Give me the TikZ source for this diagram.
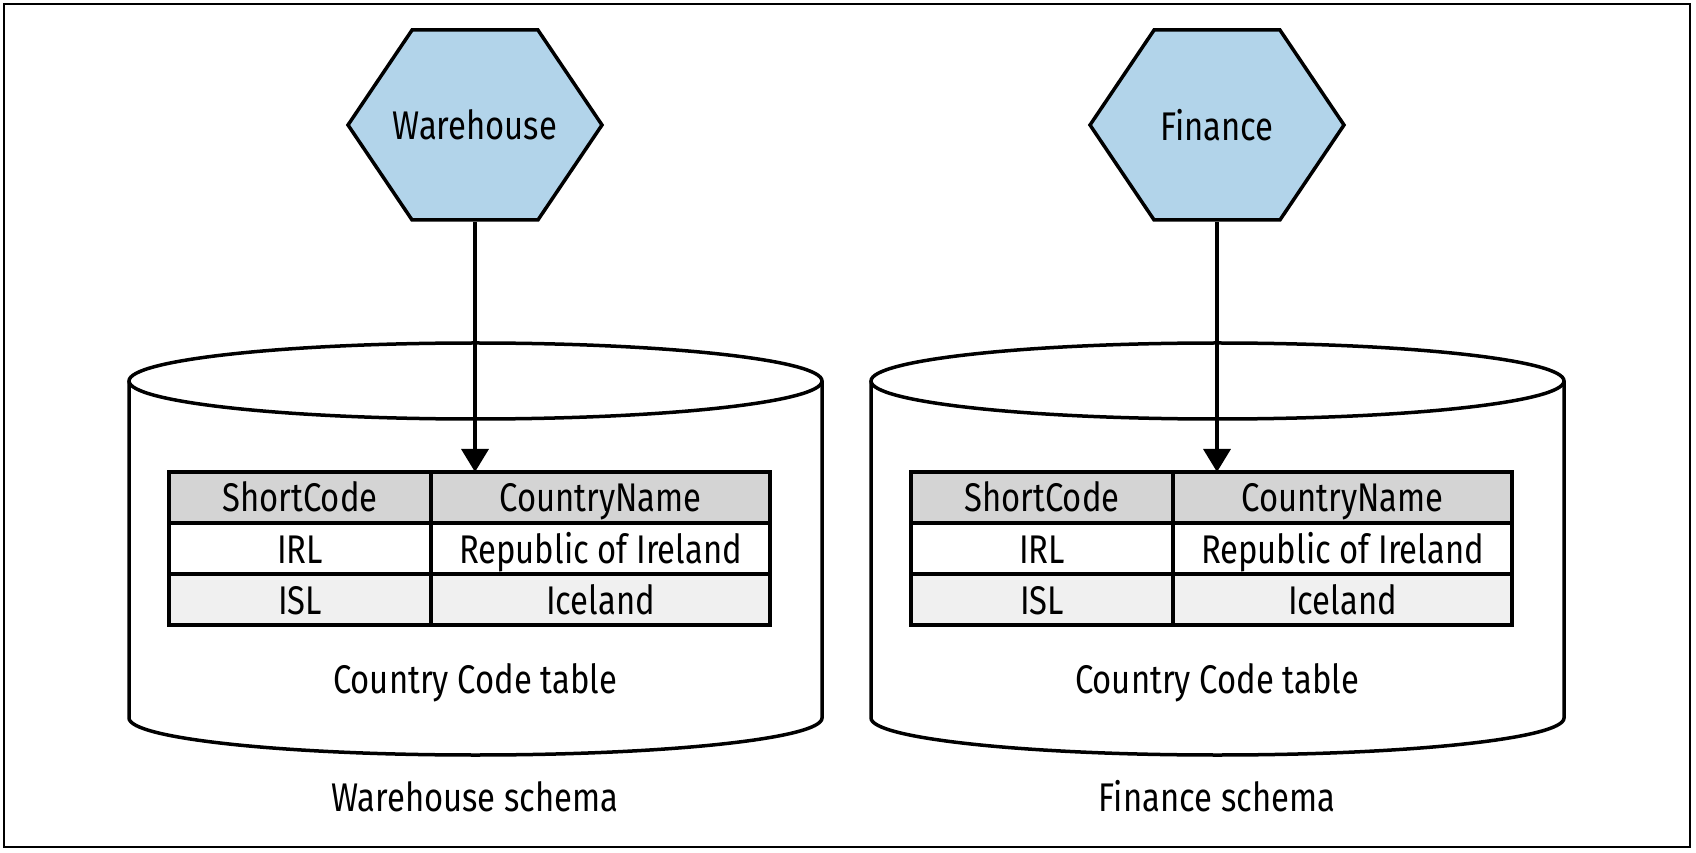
\documentclass[tikz,border=0pt]{standalone}
\usepackage{fontspec}
\setmainfont[FakeStretch=0.82]{Fira Sans}
\usetikzlibrary{positioning,shapes.symbols,arrows.meta}
\definecolor{hexblue}{RGB}{178,212,234}
\definecolor{headgray}{RGB}{212,212,212}
\definecolor{rowgray}{RGB}{240,240,240}

\begin{document}
\begin{tikzpicture}[x=1pt,y=1pt,
  every node/.style={font=\fontsize{40}{48}\selectfont},
  service/.style={signal,signal to=east and west,signal pointer angle=112,draw,fill=hexblue,line width=3.5pt,minimum width=254pt,minimum height=190pt,inner sep=0pt},
  cell/.style={draw,line width=3.5pt,minimum height=51pt,inner sep=0pt,outer sep=0pt,text height=29pt,text depth=0pt},
  keycol/.style={cell,minimum width=262pt},
  namecol/.style={cell,minimum width=339pt},
  db/.style={line width=3.5pt},
  link/.style={line width=3.5pt,-{Triangle[length=23pt,width=27pt]}}]
            \useasboundingbox (0,0) rectangle (1696,852);
            \draw[line width=1.5pt] (4,5) rectangle (1690,848);

            % warehouse schema
            \draw[db] (129,471) -- (129,134) arc[start angle=180,end angle=360,x radius=346.5,y radius=37] -- (822,471);
            \draw[db] (475.5,471) ellipse[x radius=346.5,y radius=38];
            \node[service] (wh) at (475,727) {\makebox[0pt]{Warehouse}};
            \node[keycol,fill=headgray] (wk0) at (300,354.5) {ShortCode};
            \node[namecol,fill=headgray] (wn0) [right=0pt of wk0] {CountryName};
            \node[keycol] (wk1) [below=0pt of wk0] {IRL};
            \node[namecol] (wn1) [right=0pt of wk1] {Republic of Ireland};
            \node[keycol,fill=rowgray] (wk2) [below=0pt of wk1] {ISL};
            \node[namecol,fill=rowgray] (wn2) [right=0pt of wk2] {Iceland};
            \node[anchor=base] (wtab) at (475,159) {Country Code table};
            \node[anchor=base] (wsch) at (475,41) {Warehouse schema};

            % finance schema
            \draw[db] (871,471) -- (871,134) arc[start angle=180,end angle=360,x radius=346.5,y radius=37] -- (1564,471);
            \draw[db] (1217.5,471) ellipse[x radius=346.5,y radius=38];
            \node[service] (fi) at (1217,727) {\makebox[0pt]{Finance}};
            \node[keycol,fill=headgray] (fk0) at (1042,354.5) {ShortCode};
            \node[namecol,fill=headgray] (fn0) [right=0pt of fk0] {CountryName};
            \node[keycol] (fk1) [below=0pt of fk0] {IRL};
            \node[namecol] (fn1) [right=0pt of fk1] {Republic of Ireland};
            \node[keycol,fill=rowgray] (fk2) [below=0pt of fk1] {ISL};
            \node[namecol,fill=rowgray] (fn2) [right=0pt of fk2] {Iceland};
            \node[anchor=base] (ftab) at (1217,159) {Country Code table};
            \node[anchor=base] (fsch) at (1217,41) {Finance schema};

            \draw[link] (wh) -- (wh |- wn0.north);
            \draw[link] (fi) -- (fi |- fn0.north);
        \end{tikzpicture}
\end{document}
